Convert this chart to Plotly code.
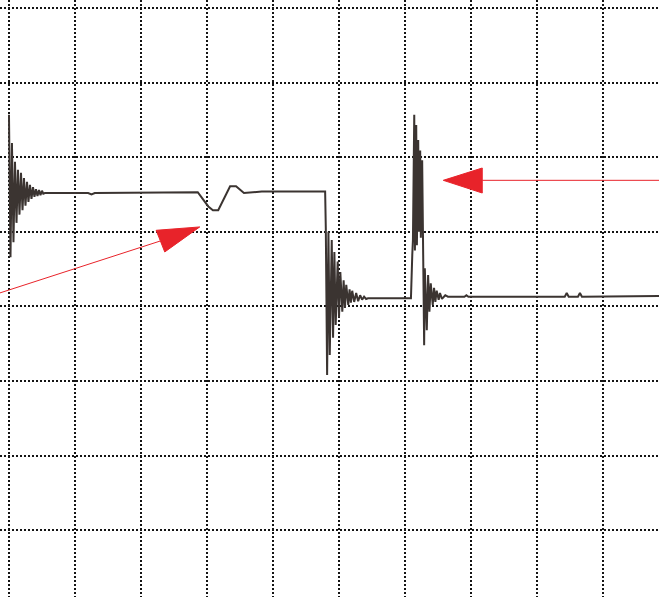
import plotly.graph_objects as go

# Oscilloscope trace, in screen divisions (x: time div, y: volts div; centre line = 0)
trace_x = [0.00, 0.023, 0.045, 0.068, 0.091, 0.114, 0.136, 0.159, 0.182, 0.205, 0.227, 0.25,
           0.273, 0.295, 0.318, 0.341, 0.364, 0.386, 0.409, 0.432, 0.455, 0.477, 0.50, 0.52, 0.545,
           1.20, 1.25, 1.30, 2.86, 2.94, 3.02, 3.09, 3.17, 3.26, 3.35, 3.44, 3.50, 3.56, 3.83,
           4.79, 4.80, 4.82, 4.84, 4.86, 4.89, 4.91, 4.93, 4.95, 4.98, 5.00, 5.02, 5.05, 5.07,
           5.09, 5.11, 5.14, 5.16, 5.18, 5.20, 5.23, 5.26, 5.29, 5.32, 5.35, 5.38, 5.41, 5.44,
           6.08, 6.09, 6.11, 6.12, 6.14, 6.15, 6.17, 6.18, 6.20, 6.21, 6.23, 6.24, 6.26, 6.27,
           6.29, 6.30, 6.33, 6.35, 6.37, 6.39, 6.42, 6.44, 6.46, 6.48, 6.51, 6.53, 6.56, 6.61,
           6.65, 6.90, 6.93, 6.96, 8.42, 8.45, 8.48, 8.62, 8.65, 8.68, 9.85]
trace_y = [2.57, 0.66, 2.19, 0.86, 1.94, 1.12, 1.83, 1.23, 1.79, 1.29, 1.72, 1.35,
           1.67, 1.40, 1.63, 1.44, 1.60, 1.47, 1.57, 1.48, 1.56, 1.49, 1.55, 1.51, 1.52,
           1.52, 1.50, 1.52, 1.53, 1.44, 1.34, 1.29, 1.29, 1.45, 1.61, 1.61, 1.56, 1.52, 1.54,
           1.54, 1.05, -0.92, 1.00, -0.65, 0.89, -0.42, 0.73, -0.25, 0.60, -0.15, 0.46, -0.07, 0.35,
           -0.02, 0.29, 0.02, 0.23, 0.05, 0.21, 0.06, 0.18, 0.07, 0.15, 0.09, 0.13, 0.10, 0.11,
           0.11, 0.11, 0.69, 0.89, 2.57, 0.75, 2.43, 0.82, 2.23, 1.00, 2.09, 0.92, 1.96, 0.96,
           -0.52, 0.51, -0.32, 0.42, -0.07, 0.31, 0.02, 0.25, 0.06, 0.21, 0.09, 0.18, 0.10, 0.15,
           0.13, 0.13, 0.15, 0.13, 0.13, 0.18, 0.13, 0.13, 0.18, 0.13, 0.14]

# Red pointer annotations (divisions): line start/end and triangle head
left_arrow_line = [(-0.14, 0.18), (2.29, 0.876)]
left_arrow_head = [(2.89, 1.065), (2.23, 1.02), (2.36, 0.73)]
right_arrow_line = [(9.85, 1.69), (7.17, 1.69)]
right_arrow_head = [(6.58, 1.69), (7.17, 1.855), (7.17, 1.52)]

RED = "#e8232a"

fig = go.Figure()
fig.add_trace(go.Scatter(x=trace_x, y=trace_y, mode="lines",
                         line=dict(color="#3b3431", width=2), hoverinfo="skip"))


def tri_path(pts):
    return "M " + " L ".join(f"{x},{y}" for x, y in pts) + " Z"


shapes = []
for ln, hd in [(left_arrow_line, left_arrow_head), (right_arrow_line, right_arrow_head)]:
    shapes.append(dict(type="line", xref="x", yref="y", x0=ln[0][0], y0=ln[0][1],
                       x1=ln[1][0], y1=ln[1][1], line=dict(color=RED, width=1)))
    shapes.append(dict(type="path", xref="x", yref="y", path=tri_path(hd),
                       fillcolor=RED, line=dict(color=RED, width=1)))

grid = dict(showgrid=True, gridcolor="#141414", gridwidth=2, griddash="2px,2px",
            dtick=1, tick0=0, showticklabels=False, ticks="", zeroline=False,
            showline=False, fixedrange=True)

fig.update_layout(
    width=659, height=597, autosize=False,
    margin=dict(l=0, r=0, t=0, b=0, pad=0),
    paper_bgcolor="white", plot_bgcolor="white",
    showlegend=False, shapes=shapes,
    xaxis=dict(range=[-0.136, 9.848], **grid),
    yaxis=dict(range=[-3.895, 4.107], **grid),
)

fig.write_html("out.html", config={"displayModeBar": False},
               post_script="document.body.style.margin='0';")
